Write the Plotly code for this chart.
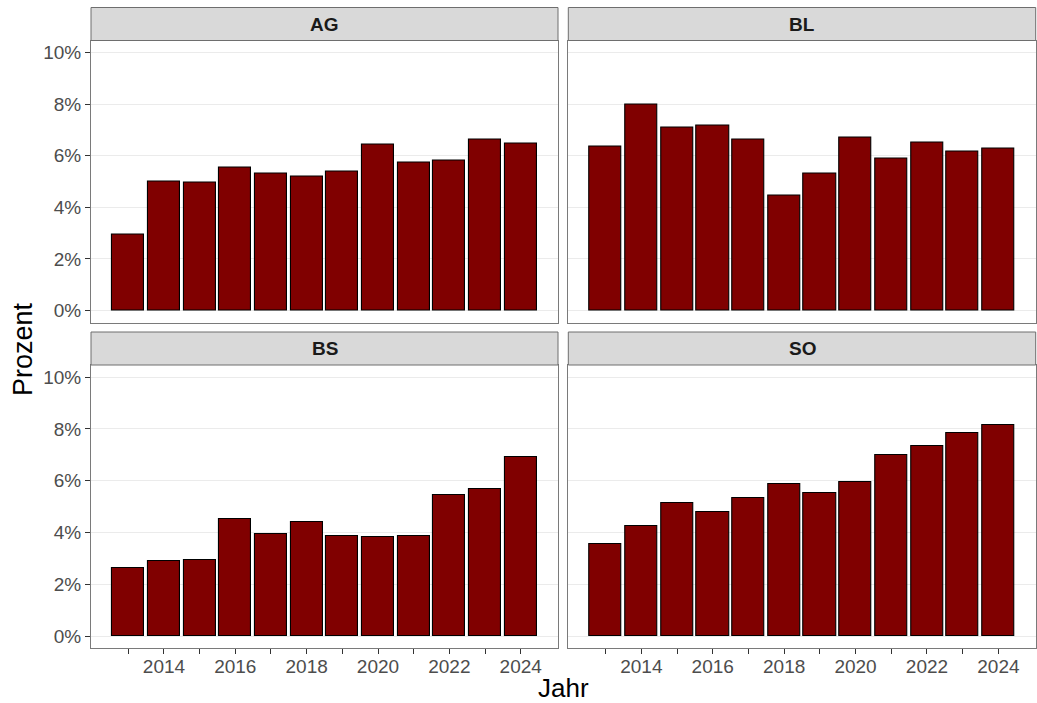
import plotly.graph_objects as go

years = list(range(2013, 2025))
panels = ["AG", "BL", "BS", "SO"]
ag = [2.96, 4.99, 4.96, 5.53, 5.31, 5.18, 5.39, 6.43, 5.74, 5.83, 6.65, 6.46]
bl = [6.36, 7.97, 7.08, 7.16, 6.63, 4.47, 5.32, 6.71, 5.88, 6.50, 6.16, 6.28]
bs = [2.63, 2.91, 2.95, 4.51, 3.95, 4.42, 3.87, 3.81, 3.85, 5.45, 5.67, 6.92]
so = [3.56, 4.25, 5.16, 4.81, 5.34, 5.86, 5.52, 5.95, 6.99, 7.36, 7.85, 8.17]
series = [ag, bl, bs, so]
y_ticks = [0, 0.02, 0.04, 0.06, 0.08, 0.10]
x_tick_labels = [str(y) if y % 2 == 0 else "" for y in years]

W, H = 1037, 703
FONT = "Liberation Sans, Arial, sans-serif"


def px(x):
    return x / W


def py(y):
    return 1 - y / H


# panel pixel boxes in window coordinates (x0, x1, ytop, ybottom)
boxes = [
    (91, 558, 40.5, 322.7),
    (568.3, 1035.7, 40.5, 322.7),
    (91, 558, 365, 648.3),
    (568.3, 1035.7, 365, 648.3),
]
STRIP_H = 33

fig = go.Figure()
layout = dict(
    width=W, height=H,
    margin=dict(l=0, r=0, t=0, b=0),
    paper_bgcolor="white", plot_bgcolor="white",
    showlegend=False, bargap=0,
    font=dict(family=FONT, color="#4d4d4d"),
)
shapes = []
annotations = []

for i, (name, vals) in enumerate(zip(panels, series)):
    x0, x1, yt, yb = boxes[i]
    sfx = "" if i == 0 else str(i + 1)
    fig.add_trace(go.Bar(
        x=years, y=[v / 100 for v in vals], width=0.9,
        marker=dict(color="#800000", line=dict(color="black", width=1.1)),
        xaxis="x" + sfx, yaxis="y" + sfx, hoverinfo="x+y",
    ))
    bottom_row = i >= 2
    left_col = i % 2 == 0
    layout["xaxis" + sfx] = dict(
        domain=[px(x0), px(x1)], anchor="y" + sfx,
        range=[2011.955, 2025.045],
        tickvals=years, ticktext=x_tick_labels if bottom_row else [""] * len(years),
        ticks="outside" if bottom_row else "", ticklen=5, tickcolor="#333333",
        ticklabelstandoff=-4,
        showgrid=False, zeroline=False,
        showline=True, mirror=True, linecolor="#7a7a7a", linewidth=1,
        tickfont=dict(size=19, color="#4d4d4d"),
    )
    layout["yaxis" + sfx] = dict(
        domain=[py(yb), py(yt)], anchor="x" + sfx,
        range=[-0.0047, 0.1047],
        tickvals=y_ticks, tickformat=".0%",
        showticklabels=left_col,
        ticks="outside" if left_col else "", ticklen=5, tickcolor="#333333",
        showgrid=True, gridcolor="#ebebeb", gridwidth=1.2,
        zeroline=False,
        showline=True, mirror=True, linecolor="#7a7a7a", linewidth=1,
        tickfont=dict(size=19, color="#4d4d4d"),
    )
    # strip
    shapes.append(dict(
        type="rect", xref="paper", yref="paper",
        x0=px(x0), x1=px(x1), y0=py(yt), y1=py(yt - STRIP_H),
        fillcolor="#d9d9d9", line=dict(color="#6e6e6e", width=1), layer="above",
    ))
    annotations.append(dict(
        text="<b>%s</b>" % name, xref="paper", yref="paper",
        x=px((x0 + x1) / 2), y=py(yt - STRIP_H / 2),
        xanchor="center", yanchor="middle", showarrow=False,
        font=dict(size=19, color="#1a1a1a", family=FONT),
    ))

annotations.append(dict(
    text="Jahr", xref="paper", yref="paper", x=px(563.5), y=py(688),
    xanchor="center", yanchor="middle", showarrow=False,
    font=dict(size=26, color="black", family=FONT),
))
annotations.append(dict(
    text="Prozent", xref="paper", yref="paper", x=px(23), y=py(349),
    xanchor="center", yanchor="middle", showarrow=False, textangle=-90,
    font=dict(size=27, color="black", family=FONT),
))

layout["shapes"] = shapes
layout["annotations"] = annotations
fig.update_layout(**layout)
fig.write_html(
    "out.html",
    config={"displayModeBar": False},
    post_script="document.body.style.margin='0px';document.body.style.overflow='hidden';",
)
